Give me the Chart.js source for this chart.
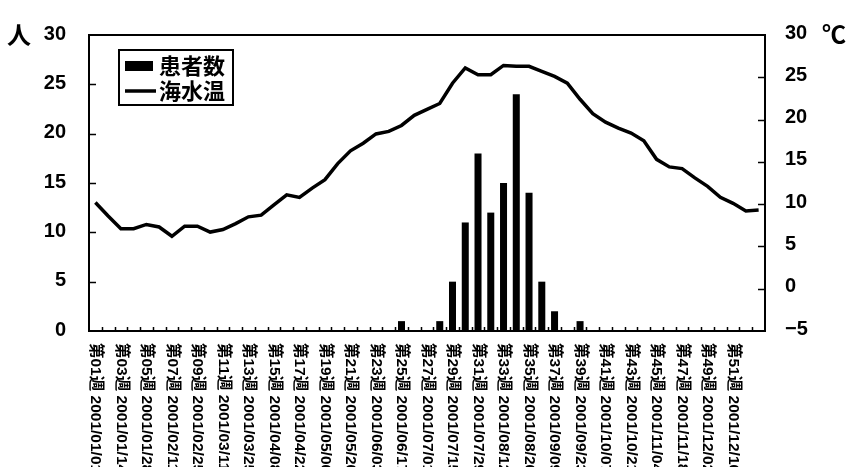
<!DOCTYPE html>
<html lang="ja">
<head>
<meta charset="utf-8">
<title>患者数と海水温（2001年）</title>
<script src="https://cdn.jsdelivr.net/npm/chart.js@4.4.1/dist/chart.umd.min.js"></script>
<style>
  html, body { margin: 0; padding: 0; background: #fff; }
  #wrap { width: 857px; height: 467px; position: relative; }
</style>
</head>
<body>
<div id="wrap"><canvas id="c" width="857" height="467"></canvas></div>
<script>
// Weekly categories (53 weeks); only odd weeks up to 第51週 carry a label
const weekLabels = [
  '第01週 2001/01/01', '', '第03週 2001/01/14', '', '第05週 2001/01/28', '',
  '第07週 2001/02/11', '', '第09週 2001/02/25', '', '第11週 2001/03/11', '',
  '第13週 2001/03/25', '', '第15週 2001/04/08', '', '第17週 2001/04/22', '',
  '第19週 2001/05/06', '', '第21週 2001/05/20', '', '第23週 2001/06/03', '',
  '第25週 2001/06/17', '', '第27週 2001/07/01', '', '第29週 2001/07/15', '',
  '第31週 2001/07/29', '', '第33週 2001/08/12', '', '第35週 2001/08/26', '',
  '第37週 2001/09/09', '', '第39週 2001/09/23', '', '第41週 2001/10/07', '',
  '第43週 2001/10/21', '', '第45週 2001/11/04', '', '第47週 2001/11/18', '',
  '第49週 2001/12/02', '', '第51週 2001/12/16', '', ''
];

// Number of patients per week (人)
const patients = [
  0, 0, 0, 0, 0, 0, 0, 0, 0, 0,
  0, 0, 0, 0, 0, 0, 0, 0, 0, 0,
  0, 0, 0, 0, 1, 0, 0, 1, 5, 11,
  18, 12, 15, 24, 14, 5, 2, 0, 1, 0,
  0, 0, 0, 0, 0, 0, 0, 0, 0, 0,
  0, 0, 0
];

// Sea water temperature per week (℃)
const seaTemp = [
  10.2, 8.6, 7.1, 7.1, 7.6, 7.3, 6.2, 7.4, 7.4, 6.7,
  7.0, 7.7, 8.5, 8.7, 9.9, 11.1, 10.8, 11.9, 12.9, 14.8,
  16.3, 17.2, 18.3, 18.6, 19.3, 20.5, 21.2, 21.9, 24.3, 26.1,
  25.3, 25.3, 26.4, 26.3, 26.3, 25.7, 25.1, 24.3, 22.4, 20.7,
  19.7, 19.0, 18.4, 17.5, 15.3, 14.4, 14.2, 13.1, 12.1, 10.8,
  10.1, 9.2, 9.3
];

// Axis ranges
const patientRange = [0, 30];
const tempRange = [-5, 30];
const axisStep = 5;

const seriesNames = ['患者数', '海水温'];
const leftUnit = '人';
const rightUnit = '℃';

const INK = '#000';
const CJK_FONT = "bold 22px 'Noto Sans CJK JP', sans-serif";
const UNIT_FONT = "bold 24px 'Noto Sans CJK JP', sans-serif";
const XLAB_FONT = "bold 15.5px 'Liberation Sans', 'Noto Sans CJK JP', sans-serif";

// Frame, inward tick marks, rotated category labels, units and legend
const decor = {
  id: 'decor',
  afterDatasetsDraw(chart) {
    const ctx = chart.ctx;
    const a = chart.chartArea;
    const xs = chart.scales.x, ys = chart.scales.y, ys1 = chart.scales.y1;
    ctx.save();
    ctx.strokeStyle = INK;
    ctx.lineWidth = 2;
    ctx.strokeRect(a.left, a.top, a.right - a.left, a.bottom - a.top);

    ctx.lineWidth = 1.5;
    ctx.beginPath();
    ys.ticks.forEach(t => {
      if (t.value === ys.min || t.value === ys.max) return;
      const y = Math.round(ys.getPixelForValue(t.value)) + 0.5;
      ctx.moveTo(a.left, y); ctx.lineTo(a.left + 7, y);
    });
    ys1.ticks.forEach(t => {
      if (t.value === ys1.min || t.value === ys1.max) return;
      const y = Math.round(ys1.getPixelForValue(t.value)) + 0.5;
      ctx.moveTo(a.right - 7, y); ctx.lineTo(a.right, y);
    });
    for (let i = 1; i < weekLabels.length; i++) {
      const x = Math.round((xs.getPixelForValue(i - 1) + xs.getPixelForValue(i)) / 2) + 0.5;
      ctx.moveTo(x, a.bottom); ctx.lineTo(x, a.bottom - 4);
    }
    ctx.stroke();
    ctx.restore();
  },
  afterDraw(chart) {
    const ctx = chart.ctx;
    const a = chart.chartArea;
    const xs = chart.scales.x;
    ctx.save();
    ctx.fillStyle = INK;

    // category labels, rotated to read downward
    ctx.font = XLAB_FONT;
    ctx.textAlign = 'left';
    ctx.textBaseline = 'middle';
    weekLabels.forEach((lab, i) => {
      if (!lab) return;
      const x = xs.getPixelForValue(i);
      ctx.save();
      ctx.translate(x, a.bottom + 12);
      ctx.rotate(Math.PI / 2);
      ctx.fillText(lab, 0, 0);
      ctx.restore();
    });

    // unit captions
    ctx.font = UNIT_FONT;
    ctx.textAlign = 'center';
    ctx.textBaseline = 'middle';
    ctx.fillText(leftUnit, 19, a.top);
    ctx.fillText(rightUnit, 834, a.top - 1);

    // legend box
    const bx = a.left + 30, by = a.top + 15, bw = 114, bh = 55;
    ctx.fillStyle = '#fff';
    ctx.fillRect(bx, by, bw, bh);
    ctx.strokeStyle = INK;
    ctx.lineWidth = 2;
    ctx.strokeRect(bx, by, bw, bh);
    const barDs = chart.data.datasets[0], lineDs = chart.data.datasets[1];
    ctx.fillStyle = barDs.backgroundColor;
    ctx.fillRect(bx + 6, by + 11, 28, 10);
    ctx.strokeStyle = lineDs.borderColor;
    ctx.lineWidth = 3.5;
    ctx.beginPath();
    ctx.moveTo(bx + 6, by + 41); ctx.lineTo(bx + 37, by + 41);
    ctx.stroke();
    ctx.fillStyle = INK;
    ctx.font = CJK_FONT;
    ctx.textAlign = 'left';
    ctx.fillText(barDs.label, bx + 40, by + 16);
    ctx.fillText(lineDs.label, bx + 40, by + 41);
    ctx.restore();
  }
};

const minusFmt = v => (v < 0 ? '\u2212' + Math.abs(v) : String(v));

new Chart(document.getElementById('c'), {
  data: {
    labels: weekLabels,
    datasets: [
      {
        type: 'bar',
        label: seriesNames[0],
        data: patients,
        yAxisID: 'y',
        backgroundColor: INK,
        borderWidth: 0,
        barPercentage: 0.55,
        categoryPercentage: 1.0,
        order: 2
      },
      {
        type: 'line',
        label: seriesNames[1],
        data: seaTemp,
        yAxisID: 'y1',
        borderColor: INK,
        borderWidth: 3.5,
        pointRadius: 0,
        tension: 0,
        fill: false,
        order: 1
      }
    ]
  },
  options: {
    responsive: false,
    animation: false,
    devicePixelRatio: 1,
    layout: { padding: { top: 25, left: 0, right: 0, bottom: 0 } },
    plugins: {
      legend: { display: false },
      tooltip: { enabled: false }
    },
    scales: {
      x: {
        type: 'category',
        offset: true,
        grid: { display: false, offset: true },
        border: { display: false },
        ticks: { display: false, autoSkip: false },
        afterFit(s) { s.height = 136; }
      },
      y: {
        position: 'left',
        min: patientRange[0],
        max: patientRange[1],
        grid: { display: false, drawTicks: false },
        border: { display: false },
        ticks: {
          stepSize: axisStep,
          color: INK,
          padding: 23,
          labelOffset: -1,
          font: { family: "'Liberation Sans', Arial, sans-serif", size: 20, weight: 'bold' },
          callback: minusFmt
        },
        afterFit(s) { s.width = 89; }
      },
      y1: {
        position: 'right',
        min: tempRange[0],
        max: tempRange[1],
        grid: { display: false, drawTicks: false },
        border: { display: false },
        ticks: {
          stepSize: axisStep,
          color: INK,
          padding: 20,
          labelOffset: -2,
          font: { family: "'Liberation Sans', Arial, sans-serif", size: 20, weight: 'bold' },
          callback: minusFmt
        },
        afterFit(s) { s.width = 92; }
      }
    }
  },
  plugins: [decor]
});
</script>
</body>
</html>
